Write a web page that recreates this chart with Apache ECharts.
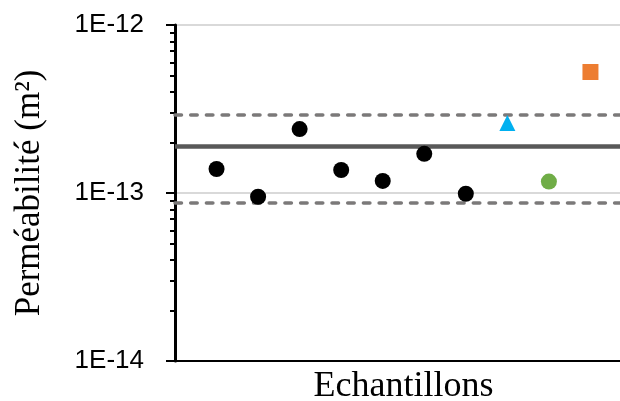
<!DOCTYPE html>
<html>
<head>
<meta charset="utf-8">
<script src="https://cdn.jsdelivr.net/npm/echarts@6/dist/echarts.min.js"></script>
<style>html,body{margin:0;padding:0;background:#fff;}#chart{width:620px;height:401px;}</style>
</head>
<body>
<div id="chart"></div>
<script>
// ---- data ----
const sampleIndex = [1, 2, 3, 4, 5, 6, 7, 8, 9, 10];
const blackValues = [1.39e-13, 0.95e-13, 2.40e-13, 1.37e-13, 1.18e-13, 1.71e-13, 0.99e-13];
const triangleValues = [2.61e-13];
const greenValues = [1.17e-13];
const squareValues = [5.25e-13];
const meanValue = 1.90e-13;
const upperValue = 2.91e-13;
const lowerValue = 0.88e-13;
const yTickValues = [1e-14, 1e-13, 1e-12];
const yTickLabels = ['1E-14', '1E-13', '1E-12'];
const xTitle = 'Echantillons';
const yTitle = 'Perméabilité (m²)';

// minor ticks at 2..9 within each decade
const minorTicks = [];
[1e-14, 1e-13].forEach(d => { for (let k = 2; k <= 9; k++) minorTicks.push(k * d); });

function pairs(xs, ys) { return ys.map((v, i) => [xs[i], v]); }

const chart = echarts.init(document.getElementById('chart'), null, {renderer: 'canvas'});
const dashStyle = {color: '#7b7979', width: 3.5, type: [6.5, 9.2], cap: 'round', opacity: 1};
const option = {
  animation: false,
  grid: {left: 175, top: 25, width: 457, height: 336, show: true, borderColor: '#000', borderWidth: 2,
    containLabel: false, outerBoundsMode: 'none'},
  xAxis: {
    type: 'value', min: 0, max: 11, interval: 1,
    name: xTitle, nameLocation: 'middle', nameGap: 8,
    nameTextStyle: {fontFamily: 'Liberation Serif', fontSize: 36, color: '#000', verticalAlign: 'top'},
    axisLine: {show: true, lineStyle: {color: '#000', width: 2}},
    axisTick: {show: false}, axisLabel: {show: false}, splitLine: {show: false}
  },
  yAxis: [{
    type: 'log', logBase: 10, min: 1e-14, max: 1e-12,
    name: yTitle, nameLocation: 'middle', nameGap: 128, nameRotate: 90,
    nameTextStyle: {fontFamily: 'Liberation Serif', fontSize: 35, color: '#000'},
    axisLine: {show: true, lineStyle: {color: '#000', width: 3}},
    axisTick: {show: true, inside: false, length: 9, lineStyle: {color: '#000', width: 2}, customValues: yTickValues},
    axisLabel: {show: true, margin: 31, fontFamily: 'Liberation Sans', fontSize: 26, color: '#000',
      customValues: yTickValues,
      formatter: v => yTickLabels[yTickValues.findIndex(t => Math.abs(Math.log10(t) - Math.log10(v)) < 1e-6)] || ''},
    splitLine: {show: true, lineStyle: {color: '#d9d9d9', width: 2}}
  }, {
    type: 'log', logBase: 10, min: 1e-14, max: 1e-12, position: 'left',
    axisLine: {show: false},
    axisTick: {show: true, inside: false, length: 5, lineStyle: {color: '#000', width: 2}, customValues: minorTicks},
    axisLabel: {show: false}, splitLine: {show: false}
  }],
  series: [
    {type: 'scatter', z: 5, symbol: 'circle', symbolSize: 16, itemStyle: {color: '#000', opacity: 1},
      data: pairs(sampleIndex.slice(0, 7), blackValues),
      markLine: {
        symbol: ['none', 'none'], silent: true, label: {show: false}, animation: false, z: 1,
        precision: 20,
        data: [
          {yAxis: upperValue, lineStyle: dashStyle},
          {yAxis: lowerValue, lineStyle: dashStyle},
          {yAxis: meanValue, lineStyle: {color: '#595959', width: 4.5, type: 'solid', opacity: 1}}
        ]
      }},
    {type: 'scatter', z: 5, symbol: 'triangle', symbolSize: [16, 16], itemStyle: {color: '#00B0F0', opacity: 1},
      data: pairs(sampleIndex.slice(7, 8), triangleValues)},
    {type: 'scatter', z: 5, symbol: 'circle', symbolSize: 16, itemStyle: {color: '#70AD47', opacity: 1},
      data: pairs(sampleIndex.slice(8, 9), greenValues)},
    {type: 'scatter', z: 5, symbol: 'rect', symbolSize: 16, itemStyle: {color: '#ED7D31', opacity: 1},
      data: pairs(sampleIndex.slice(9, 10), squareValues)}
  ]
};
chart.setOption(option);
</script>
</body>
</html>
